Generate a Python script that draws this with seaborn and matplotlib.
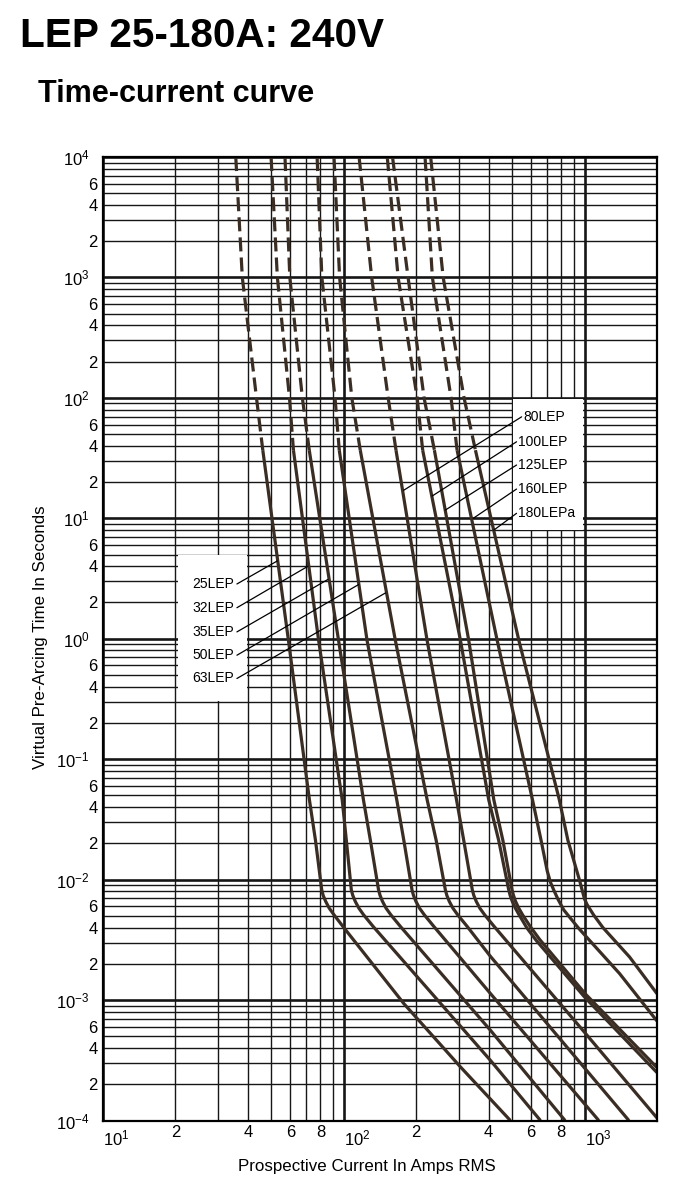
import matplotlib
matplotlib.use("Agg")
import numpy as np
import pandas as pd
import matplotlib.pyplot as plt
from matplotlib.ticker import FixedLocator, FuncFormatter
from matplotlib.patches import Rectangle
import seaborn as sns

# ---------------- data ----------------
fuse_labels = ["25LEP", "32LEP", "35LEP", "50LEP", "63LEP",
               "80LEP", "100LEP", "125LEP", "160LEP", "180LEPa"]

# dashed (long-time) part: currents at these times
t_dash = [1e4, 1e3, 100.0, 36.8]
D25 = [35.6, 37.9, 43.4, 46.1]
D32 = [49.9, 53.0, 59.5, 61.8]
D35 = [57.0, 59.7, 67.3, 71.9]
D50 = [77.5, 81.1, 92.0, 95.8]
D63 = [91.1, 96.1, 108.0, 117.1]
D80 = [115.8, 130.6, 152.9, 164.8]
D100 = [151.6, 168.2, 201.8, 212.7]
D125 = [159.4, 185.0, 215.6, 237.9]
D160 = [217.6, 233.4, 279.0, 295.6]
D180 = [229.6, 258.8, 316.0, 352.3]

# solid part: (current, time) pairs
I25 = [46.1, 58.9, 72.0, 76.3, 81.0, 82.1, 84.1, 87.0, 91.1, 100.0, 178.0, 306.0, 492.0]
T25 = [36.8, 0.974, 0.046, 0.0212, 0.0082, 0.0074, 0.0066, 0.0058, 0.0051, 0.0040, 9.3e-4, 2.77e-4, 1e-4]
I32 = [61.8, 78.6, 98.5, 102.5, 107.5, 109.0, 111.6, 115.5, 120.9, 132.2, 407.0, 656.0]
T32 = [36.8, 0.974, 0.046, 0.0212, 0.0082, 0.0074, 0.0066, 0.0058, 0.0051, 0.0041, 3.15e-4, 1e-4]
I35 = [71.9, 95.1, 120.7, 129.0, 139.5, 141.5, 144.8, 149.8, 156.9, 171.6, 407.0, 830.0]
T35 = [36.8, 0.974, 0.046, 0.0212, 0.0082, 0.0074, 0.0066, 0.0058, 0.0051, 0.0041, 5.6e-4, 1e-4]
I50 = [95.8, 124.9, 166.0, 177.6, 192.1, 194.8, 199.4, 206.3, 216.1, 236.3, 407.0, 1146.0]
T50 = [36.8, 0.974, 0.046, 0.0212, 0.0082, 0.0074, 0.0066, 0.0058, 0.0051, 0.0041, 1.13e-3, 1e-4]
I63 = [117.1, 163.7, 222.0, 242.0, 264.3, 268.0, 274.3, 283.9, 297.3, 325.1, 407.0, 1528.0]
T63 = [36.8, 0.974, 0.046, 0.0212, 0.0082, 0.0074, 0.0066, 0.0058, 0.0051, 0.0041, 2.3e-3, 1e-4]
I80 = [164.8, 221.8, 294.0, 315.0, 342.0, 346.8, 355.0, 367.3, 384.8, 420.7, 1000.0, 2000.0]
T80 = [36.8, 0.974, 0.046, 0.0212, 0.0082, 0.0074, 0.0066, 0.0058, 0.0051, 0.0041, 5.4e-4, 1.05e-4]
I100 = [212.7, 305.1, 400.0, 440.0, 484.5, 491.0, 501.0, 516.0, 535.0, 575.0, 630.0, 1000.0, 2000.0]
T100 = [36.8, 0.974, 0.046, 0.0212, 0.0082, 0.0074, 0.0066, 0.0058, 0.0051, 0.0040, 3.13e-3, 1.06e-3, 2.5e-4]
I125 = [237.9, 330.3, 420.0, 458.0, 500.0, 507.0, 517.0, 533.0, 553.0, 594.0, 650.0, 1010.0, 2000.0]
T125 = [36.8, 0.974, 0.046, 0.0212, 0.0082, 0.0074, 0.0066, 0.0058, 0.0051, 0.0041, 3.2e-3, 1.12e-3, 2.75e-4]
I160 = [295.6, 433.5, 608.0, 660.0, 700.0, 722.0, 745.0, 775.0, 820.0, 880.0, 950.0, 1398.0, 2000.0]
T160 = [36.8, 0.974, 0.046, 0.0212, 0.0118, 0.0095, 0.0082, 0.0069, 0.0056, 0.0047, 0.0039, 1.66e-3, 6.7e-4]
I180 = [352.3, 533.3, 786.0, 853.0, 953.0, 1000.0, 1025.0, 1090.0, 1192.0, 1538.0, 2000.0]
T180 = [36.8, 0.974, 0.046, 0.0212, 0.0099, 0.0069, 0.0062, 0.0051, 0.0040, 2.28e-3, 1.13e-3]

# label boxes and leader lines
left_label_t = [2.85, 1.81, 1.14, 0.73, 0.468]
left_leader_I = [53.0, 71.0, 86.0, 115.3, 149.0]
left_leader_t = [4.43, 4.0, 3.11, 2.82, 2.40]
right_label_t = [69.6, 43.2, 27.7, 17.5, 11.0]
right_label_I = [556.0, 530.0, 530.0, 530.0, 530.0]
right_leader_I = [177.4, 232.8, 264.0, 345.0, 420.0]
right_leader_t = [17.1, 15.3, 11.7, 10.0, 7.98]

x_major = [10, 100, 1000]
y_major = [1e-4, 1e-3, 1e-2, 1e-1, 1e0, 1e1, 1e2, 1e3, 1e4]

# ---------------- style ----------------
sns.set_theme(style="white")
plt.rcParams['font.family'] = ['Liberation Sans', 'DejaVu Sans']
plt.rcParams['mathtext.fontset'] = 'custom'
plt.rcParams['mathtext.rm'] = 'Liberation Sans'
plt.rcParams['mathtext.it'] = 'Liberation Sans:italic'
plt.rcParams['mathtext.bf'] = 'Liberation Sans:bold'
for k in ['text.color', 'axes.labelcolor', 'xtick.color', 'ytick.color']:
    plt.rcParams[k] = 'black'

CURVE = '#3a2d24'
GRID = '#161616'

dash_sets = [D25, D32, D35, D50, D63, D80, D100, D125, D160, D180]
solid_I = [I25, I32, I35, I50, I63, I80, I100, I125, I160, I180]
solid_T = [T25, T32, T35, T50, T63, T80, T100, T125, T160, T180]
rows = []
for name, d, si, st in zip(fuse_labels, dash_sets, solid_I, solid_T):
    for k, (I, t) in enumerate(zip(d, t_dash)):
        rows.append((name, 'dashed', k, I, t))
    for k, (I, t) in enumerate(zip(si, st)):
        rows.append((name, 'solid', k, I, t))
df = pd.DataFrame(rows, columns=['fuse', 'part', 'order', 'I', 't'])

fig = plt.figure(figsize=(6.8, 11.87), dpi=100)
ax = fig.add_axes([103 / 680, 1 - 1120.5 / 1187, 554 / 680, 963.5 / 1187])
ax.set_xscale('log')
ax.set_yscale('log')

for name in fuse_labels:
    for part in ['dashed', 'solid']:
        sub = df[(df.fuse == name) & (df.part == part)].sort_values('order')
        sns.lineplot(data=sub, x='I', y='t', sort=False, estimator=None,
                     color=CURVE, linewidth=2.3, ax=ax, legend=False)
        line = ax.lines[-1]
        line.set_solid_capstyle('butt')
        line.set_solid_joinstyle('round')
        line.set_zorder(3)
        if part == 'dashed':
            line.set_dashes([4.4, 1.9])
            line.set_dash_capstyle('butt')

ax.set_xlim(10, 2000)
ax.set_ylim(1e-4, 1e4)

# ticks
xminor = [m * 10 ** e for e in (1, 2, 3) for m in range(2, 10) if m * 10 ** e < 2000]
yminor = [m * 10.0 ** e for e in range(-4, 4) for m in range(2, 10)]
ax.xaxis.set_major_locator(FixedLocator(x_major))
ax.xaxis.set_minor_locator(FixedLocator(xminor))
ax.yaxis.set_major_locator(FixedLocator(y_major))
ax.yaxis.set_minor_locator(FixedLocator(yminor))


def major_fmt(v, pos):
    e = int(round(np.log10(v)))
    return r'$\mathdefault{10^{%d}}$' % e


def mant(v):
    e = np.floor(np.log10(v) + 1e-9)
    return int(round(v / 10 ** e))


ax.xaxis.set_major_formatter(FuncFormatter(major_fmt))
ax.yaxis.set_major_formatter(FuncFormatter(major_fmt))
ax.xaxis.set_minor_formatter(FuncFormatter(lambda v, p: str(mant(v)) if mant(v) in (2, 4, 6, 8) else ''))
ax.yaxis.set_minor_formatter(FuncFormatter(lambda v, p: str(mant(v)) if mant(v) in (2, 4, 6) else ''))

ax.tick_params(axis='x', which='major', length=0, pad=6.0, labelsize=12)
ax.tick_params(axis='x', which='minor', length=0, pad=3.5, labelsize=12)
ax.tick_params(axis='y', which='major', length=0, pad=9.5, labelsize=12)
ax.tick_params(axis='y', which='minor', length=0, pad=4.0, labelsize=12)
for lbl in ax.xaxis.get_majorticklabels():
    lbl.set_horizontalalignment('left')

ax.set_axisbelow(True)
ax.grid(which='major', color=GRID, linewidth=1.9)
ax.grid(which='minor', color=GRID, linewidth=1.0)
for s in ax.spines.values():
    s.set_color('black')
    s.set_linewidth(1.6)
    s.set_zorder(4)

# white label boxes over the grid
ax.add_patch(Rectangle((20.4, 0.302), 39.5 - 20.4, 4.97 - 0.302,
                       facecolor='white', edgecolor='none', zorder=1.5))
ax.add_patch(Rectangle((503, 7.95), 990 - 503, 98.5 - 7.95,
                       facecolor='white', edgecolor='none', zorder=1.5))

# curve labels and leaders
for name, ty, li, lt in zip(fuse_labels[:5], left_label_t, left_leader_I, left_leader_t):
    ax.text(35.1, ty, name, ha='right', va='center', fontsize=10, zorder=5)
    ax.plot([36.0, li], [ty, lt], color='black', lw=0.9, zorder=4)
for name, ty, tx, li, lt in zip(fuse_labels[5:], right_label_t, right_label_I,
                                right_leader_I, right_leader_t):
    ax.text(tx, ty, name, ha='left', va='center', fontsize=10, zorder=5)
    ax.plot([tx - 8, li], [ty, lt], color='black', lw=0.9, zorder=4)

ax.set_xlabel('Prospective Current In Amps RMS', fontsize=12.2)
ax.set_ylabel('Virtual Pre-Arcing Time In Seconds', fontsize=12.2)
ax.xaxis.set_label_coords(0.4765, -0.040)
ax.yaxis.set_label_coords(-0.100, 0.502)

fig.text(20 / 680, 1 - 46.7 / 1187, 'LEP 25-180A: 240V', fontsize=29.2,
         fontweight='bold', ha='left', va='baseline')
fig.text(38.5 / 680, 1 - 101.7 / 1187, 'Time-current curve', fontsize=22,
         fontweight='bold', ha='left', va='baseline')

fig.savefig('out.png', dpi=100)
